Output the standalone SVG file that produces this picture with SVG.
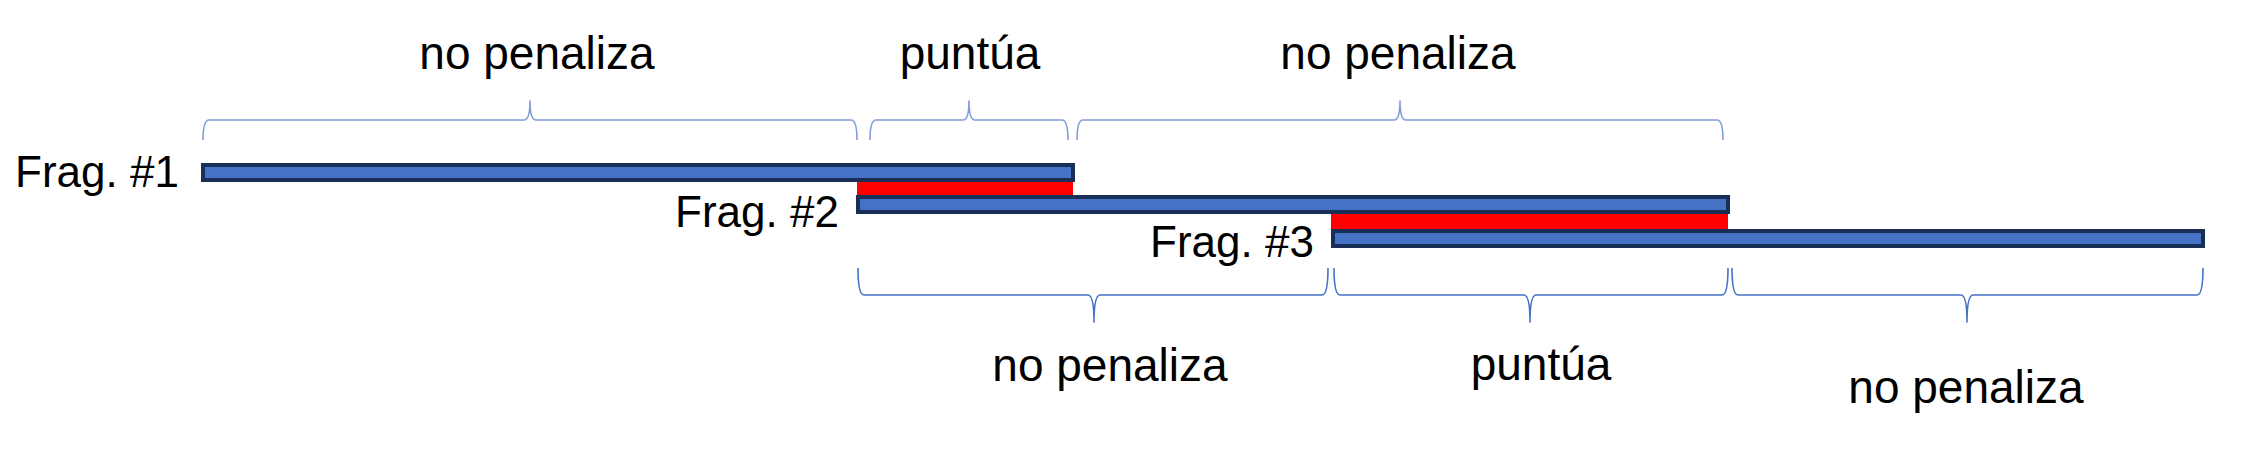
<svg xmlns="http://www.w3.org/2000/svg" width="2244" height="457" viewBox="0 0 2244 457">
<style>
.bg{fill:#ffffff}
.bar{fill:#4472C4;stroke:#1A2F55;stroke-width:4}
.hl{fill:#FF0000;stroke:none}
.brace{fill:none;stroke:#4472C4;stroke-width:1.6;stroke-linejoin:round}
.top{stroke:#7F9DD6}
.lbl{font-family:"Liberation Sans",Arial,sans-serif;font-size:46px;fill:#000000;text-anchor:middle}
.frag{font-size:44px}
</style>
<rect class="bg" x="0" y="0" width="2244" height="457"/>
<g id="labels">
<text class="lbl" x="537" y="69">no penaliza</text>
<text class="lbl" x="970" y="69">puntúa</text>
<text class="lbl" x="1398" y="69">no penaliza</text>
<text class="lbl" x="1110" y="381">no penaliza</text>
<text class="lbl" x="1541" y="380">puntúa</text>
<text class="lbl" x="1966" y="403">no penaliza</text>
</g>
<g id="frag1">
<rect class="bar" x="203" y="165" width="870" height="15"/>
<text class="lbl frag" x="97" y="187">Frag. #1</text>
</g>
<g id="overlap1">
<rect class="hl" x="857" y="182" width="216" height="14"/>
</g>
<g id="frag2">
<rect class="bar" x="858" y="197" width="870" height="15"/>
<text class="lbl frag" x="757" y="227">Frag. #2</text>
</g>
<g id="overlap2">
<rect class="hl" x="1331" y="214" width="397" height="15"/>
</g>
<g id="frag3">
<rect class="bar" x="1333" y="231" width="870" height="15"/>
<text class="lbl frag" x="1232" y="257">Frag. #3</text>
</g>
<g id="connectors">
<path class="brace top" d="M203 140 Q203 120 209 120 H524 Q530 120 530 101 Q530 120 536 120 H851 Q857 120 857 140"/>
<path class="brace top" d="M870 140 Q870 120 876 120 H963 Q969 120 969 101 Q969 120 975 120 H1062 Q1068 120 1068 140"/>
<path class="brace top" d="M1077 140 Q1077 120 1083 120 H1394 Q1400 120 1400 101 Q1400 120 1406 120 H1717 Q1723 120 1723 140"/>
<path class="brace" d="M858 268 Q858 295 864 295 H1088 Q1094 295 1094 322 Q1094 295 1100 295 H1322 Q1328 295 1328 268"/>
<path class="brace" d="M1334 268 Q1334 295 1340 295 H1524 Q1530 295 1530 322 Q1530 295 1536 295 H1722 Q1728 295 1728 268"/>
<path class="brace" d="M1732 268 Q1732 295 1738 295 H1961 Q1967 295 1967 322 Q1967 295 1973 295 H2197 Q2203 295 2203 268"/>
</g>
</svg>
